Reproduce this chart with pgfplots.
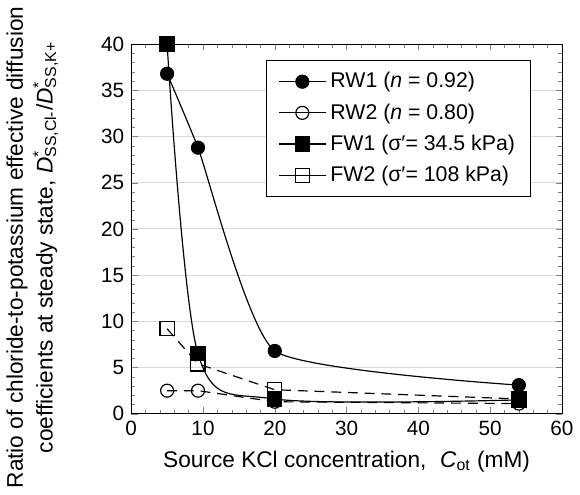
\documentclass[border=0pt]{standalone}
\usepackage{pgfplots}
\pgfplotsset{compat=1.18}
\usepackage{fontspec}
\setmainfont{Liberation Sans}

\begin{document}
\begin{tikzpicture}
\begin{axis}[
    scale only axis,
    width=218.5pt, height=187.5pt,
    xmin=0, xmax=60, ymin=0, ymax=40,
    xtick={0,10,...,60}, ytick={0,5,...,40},
    minor x tick num=4, minor y tick num=4,
    major tick length=3.2pt, minor tick length=1.8pt,
    ymajorgrids,
    grid style={gray!30, line width=0.5pt},
    tick label style={font=\fontsize{10.5}{12}\selectfont},
    xticklabel={\pgfmathparse{int(round(\tick))}\pgfmathresult},
    yticklabel={\pgfmathparse{int(round(\tick))}\pgfmathresult},
    xlabel={Source KCl concentration,\hspace{0.6em}\textit{C}\textsubscript{ot} (mM)},
    xlabel style={font=\fontsize{11.5}{13}\selectfont, yshift=-1pt},
    ylabel={Ratio of chloride-to-potassium effective diffusion\\
        coefficients at steady state, \textit{D}\rlap{\textsuperscript{*}}\textsubscript{SS,Cl-}/\textit{D}\rlap{\textsuperscript{*}}\textsubscript{SS,K+}},
    ylabel style={font=\fontsize{11.5}{15}\selectfont, align=center, at={(ticklabel cs:0.45)}},
    ylabel shift=15pt,
    legend cell align=left,
    legend image post style={solid},
    legend image code/.code={
        \draw[mark repeat=2, mark phase=2] plot coordinates {(0cm,0cm) (0.42cm,0cm) (0.84cm,0cm)};
    },
    legend style={at={(rel axis cs:0.929,0.957)}, anchor=north east,
        font=\fontsize{10.8}{12}\selectfont, draw=black, line width=0.6pt,
        row sep=2.5pt, inner xsep=6pt, inner ysep=4pt},
]

\addplot[black, line width=0.6pt, smooth, tension=0.3, mark=*, mark size=3.3pt,
    mark options={fill=black}] coordinates {
    (5, 36.8) (9.3, 28.8) (20, 6.8) (54, 3.1)
};
\addlegendentry{RW1 (\textit{n} = 0.92)}

\addplot[black, line width=0.6pt, dash pattern=on 5pt off 3.5pt, mark=o, mark size=3.3pt,
    mark options={solid, fill=white}] coordinates {
    (5, 2.5) (9.3, 2.5) (20, 1.3) (54, 1.1)
};
\addlegendentry{RW2 (\textit{n} = 0.80)}

\addplot[black, line width=0.6pt, smooth, mark=square*, mark size=3.6pt,
    mark options={fill=black}] coordinates {
    (5, 40) (9.3, 6.5) (20, 1.6) (54, 1.5)
};
\addlegendentry{FW1 (σ′= 34.5 kPa)}

\addplot[black, line width=0.6pt, dash pattern=on 5pt off 3.5pt, mark=square, mark size=3.6pt,
    mark options={solid, fill=white}] coordinates {
    (5, 9.2) (9.3, 5.4) (20, 2.6) (54, 1.6)
};
\addlegendentry{FW2 (σ′= 108 kPa)}

\end{axis}
\end{tikzpicture}
\end{document}
